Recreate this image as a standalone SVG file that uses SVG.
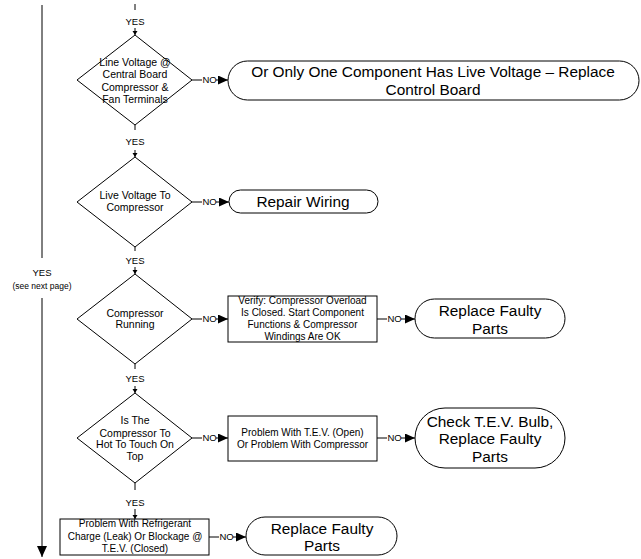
<svg xmlns="http://www.w3.org/2000/svg" width="641" height="559" viewBox="0 0 641 559">
<style>
.n{fill:#fff;stroke:#000;stroke-width:1}
.t{fill:#000;font-family:"Liberation Sans",Arial,sans-serif;text-anchor:middle}
.s{font-size:10px}
.q{font-size:10.5px}
.l{font-size:9.5px}
.p{font-size:8.5px}
.b{font-size:15.4px}
.c{fill:none;stroke:#000;stroke-width:1}
</style>
<defs>
<marker id="ad" markerUnits="userSpaceOnUse" markerWidth="5" markerHeight="6" refX="4" refY="2.5" orient="auto"><path d="M0,0 L4,2.5 L0,5 Z" fill="#000"/></marker>
<marker id="an" markerUnits="userSpaceOnUse" markerWidth="11" markerHeight="10" refX="10" refY="4.5" orient="auto"><path d="M0,0 L10,4.5 L0,9 Z" fill="#000"/></marker>
<marker id="ab" markerUnits="userSpaceOnUse" markerWidth="12" markerHeight="11" refX="11" refY="5" orient="auto"><path d="M0,0 L11,5 L0,10 Z" fill="#000"/></marker>
</defs>
<g id="connectors">
<path class="c" d="M42,5 V258"/>
<path class="c" d="M42,298 V557" marker-end="url(#ab)"/>
<path class="c" d="M135,4 V10"/>
<path class="c" d="M135,28 V35" marker-end="url(#ad)"/>
<path class="c" d="M135,125 V130"/>
<path class="c" d="M135,150 V157" marker-end="url(#ad)"/>
<path class="c" d="M135,247 V251"/>
<path class="c" d="M135,267 V274" marker-end="url(#ad)"/>
<path class="c" d="M135,364 V369"/>
<path class="c" d="M135,386 V393" marker-end="url(#ad)"/>
<path class="c" d="M135,483 V490"/>
<path class="c" d="M135,509 V519" marker-end="url(#ad)"/>
<path class="c" d="M192,80 H202"/>
<path class="c" d="M216,80 H228" marker-end="url(#an)"/>
<path class="c" d="M192,202 H202"/>
<path class="c" d="M216,202 H229" marker-end="url(#an)"/>
<path class="c" d="M192,319 H202"/>
<path class="c" d="M216,319 H228" marker-end="url(#an)"/>
<path class="c" d="M377,319 H387"/>
<path class="c" d="M401,319 H415" marker-end="url(#an)"/>
<path class="c" d="M192,438 H202"/>
<path class="c" d="M216,438 H228" marker-end="url(#an)"/>
<path class="c" d="M377,438 H387"/>
<path class="c" d="M401,438 H415" marker-end="url(#an)"/>
<path class="c" d="M209,537 H219"/>
<path class="c" d="M233,537 H246" marker-end="url(#an)"/>
<g class="t l">
<text x="135" y="25.4">YES</text>
<text x="135" y="145.4">YES</text>
<text x="135" y="264.4">YES</text>
<text x="135" y="382.4">YES</text>
<text x="135" y="506.4">YES</text>
<text x="42" y="276.4">YES</text>
<text x="209.5" y="83.4">NO</text>
<text x="209.5" y="205.4">NO</text>
<text x="209.5" y="322.4">NO</text>
<text x="394.5" y="322.4">NO</text>
<text x="209.5" y="441.4">NO</text>
<text x="394.5" y="441.4">NO</text>
<text x="226.5" y="540.4">NO</text>
</g>
<text class="t p" x="42" y="289">(see next page)</text>
</g>
<g id="d1">
<polygon class="n" points="135,35 192,80 135,125 77,80"/>
<text class="t q" x="135" y="65.8">Line Voltage @</text>
<text class="t q" x="135" y="78.2">Central Board</text>
<text class="t q" x="135" y="90.5">Compressor &amp;</text>
<text class="t q" x="135" y="102.5">Fan Terminals</text>
</g>
<g id="e1">
<rect class="n" x="228" y="61" width="411" height="39" rx="19.5"/>
<text class="t b" x="433" y="76.5">Or Only One Component Has Live Voltage – Replace</text>
<text class="t b" x="433" y="94.5">Control Board</text>
</g>
<g id="d2">
<polygon class="n" points="135,157 192,202 135,247 77,202"/>
<text class="t q" x="135" y="198.8">Live Voltage To</text>
<text class="t q" x="135" y="211.2">Compressor</text>
</g>
<g id="e2">
<rect class="n" x="229" y="190" width="149" height="23" rx="11.5"/>
<text class="t b" x="303" y="207">Repair Wiring</text>
</g>
<g id="d3">
<polygon class="n" points="135,274 192,319 135,364 77,319"/>
<text class="t q" x="135" y="316.5">Compressor</text>
<text class="t q" x="135" y="327.9">Running</text>
</g>
<g id="b3">
<rect class="n" x="228" y="296" width="149" height="46"/>
<text class="t s" x="302.5" y="304">Verify: Compressor Overload</text>
<text class="t s" x="302.5" y="316">Is Closed. Start Component</text>
<text class="t s" x="302.5" y="328">Functions &amp; Compressor</text>
<text class="t s" x="302.5" y="340">Windings Are OK</text>
</g>
<g id="e3">
<rect class="n" x="415" y="299" width="150" height="39" rx="19.5"/>
<text class="t b" x="490" y="315.5">Replace Faulty</text>
<text class="t b" x="490" y="333.5">Parts</text>
</g>
<g id="d4">
<polygon class="n" points="135,393 192,438 135,483 77,438"/>
<text class="t q" x="135" y="423.8">Is The</text>
<text class="t q" x="135" y="436.5">Compressor To</text>
<text class="t q" x="135" y="447.8">Hot To Touch On</text>
<text class="t q" x="135" y="459.8">Top</text>
</g>
<g id="b4">
<rect class="n" x="228" y="416" width="149" height="45"/>
<text class="t s" x="302.5" y="435.6">Problem With T.E.V. (Open)</text>
<text class="t s" x="302.5" y="447.6">Or Problem With Compressor</text>
</g>
<g id="e4">
<rect class="n" x="415" y="408" width="150" height="60" rx="30"/>
<text class="t b" x="490" y="426.5">Check T.E.V. Bulb,</text>
<text class="t b" x="490" y="444">Replace Faulty</text>
<text class="t b" x="490" y="461.5">Parts</text>
</g>
<g id="b5">
<rect class="n" x="60" y="519" width="149" height="36"/>
<text class="t s" x="135" y="527">Problem With Refrigerant</text>
<text class="t s" x="135" y="539.5">Charge (Leak) Or Blockage @</text>
<text class="t s" x="135" y="552">T.E.V. (Closed)</text>
</g>
<g id="e5">
<rect class="n" x="246" y="517" width="151" height="38" rx="19"/>
<text class="t b" x="322" y="533.5">Replace Faulty</text>
<text class="t b" x="322" y="550.5">Parts</text>
</g>
</svg>
